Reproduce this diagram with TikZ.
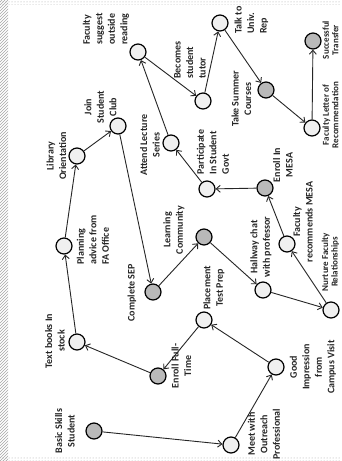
\documentclass[tikz,border=0pt]{standalone}
\usepackage{fontspec}
\setmainfont{Carlito}
\usetikzlibrary{arrows.meta,patterns}
\tikzset{
  nd/.style={circle,draw=black,line width=1.2pt,minimum size=16pt,inner sep=0pt},
  lt/.style={nd,fill=gray!12},
  dk/.style={nd,fill=gray!55},
  lbl/.style={rotate=90,font=\bfseries\fontsize{10}{12.5}\selectfont,align=center,inner sep=0pt,text=black!85},
  lbll/.style={lbl,align=left},
  lbltight/.style={lbl,font=\bfseries\fontsize{9}{9.5}\selectfont},
  arr/.style={-{Straight Barb[length=4pt,width=7pt]},line width=0.9pt,black!85},
}
\begin{document}
\begin{tikzpicture}[x=1pt,y=-1pt]
\useasboundingbox (0,0) rectangle (341,461);
\fill[white] (0,0) rectangle (341,461);
% scan border noise
\fill[pattern=north east lines,pattern color=gray!70] (0,0) rectangle (8,461);
\fill[pattern=dots,pattern color=gray!70] (0,0) rectangle (341,4);
\fill[pattern=dots,pattern color=gray!70] (0,456) rectangle (341,461);
% circles
\node[dk] (basic) at (94,431) {};
\node[lt] (meet) at (231,445) {};
\node[lt] (good) at (276,367) {};
\node[dk] (enroll) at (158,376) {};
\node[lt] (books) at (77,342) {};
\node[lt] (place) at (204,320) {};
\node[lt] (plan) at (64,246) {};
\node[dk] (sep) at (153,292) {};
\node[dk] (learn) at (204,237) {};
\node[lt] (hall) at (263,290) {};
\node[lt] (nurt) at (331,310) {};
\node[lt] (facrec) at (287,244) {};
\node[dk] (mesa) at (265,188) {};
\node[lt] (part) at (207,189) {};
\node[lt] (attend) at (171,143) {};
\node[lt] (lib) at (77,156) {};
\node[lt] (join) at (118,126) {};
\node[lt] (facsug) at (138,52) {};
\node[lt] (tutor) at (203,101) {};
\node[lt] (talk) at (220,23) {};
\node[dk] (summer) at (266,90) {};
\node[lt] (letter) at (312,128) {};
\node[dk] (transfer) at (313,41) {};
% labels
\node[lbl] (tbasic) at (65,431) {Basic Skills\\Student};
\node[lbl] (tmeet) at (264,434) {Meet with\\Outreach\\Professional};
\node[lbl] (tgood) at (313,367) {Good\\Impression\\from\\Campus Visit};
\node[lbl] (tenroll) at (181.5,366) {Enroll Full-\\Time};
\node[lbl] (tbooks) at (55,341) {Text books In\\stock};
\node[lbl] (tplace) at (214,288) {Placement\\Test Prep};
\node[lbll] (tplan) at (93,240) {Planning\\advice from\\FA Office};
\node[lbl] (tsep) at (132,293) {Complete SEP};
\node[lbl] (tlearn) at (174,230) {Learning\\Community};
\node[lbl] (thall) at (261,247) {Hallway chat\\with professor};
\node[lbltight] (tnurt) at (330.5,262) {Nurture Faculty\\Relationships};
\node[lbl] (tfacrec) at (303,222) {Faculty\\recommends MESA};
\node[lbl] (tmesa) at (283,165) {Enroll In\\MESA};
\node[lbll] (tpart) at (213,152) {Participate\\In Student\\Govt};
\node[lbl] (tattend) at (150,145) {Attend Lecture\\Series};
\node[lbl] (tlib) at (56.5,156) {Library\\Orientation};
\node[lbl] (tjoin) at (100.5,107) {Join\\Student\\Club};
\node[lbll] (tfacsug) at (106,29) {Faculty\\suggest\\outside\\reading};
\node[lbll] (ttalk) at (251.5,20) {Talk to\\Univ.\\Rep};
\node[lbll] (ttutor) at (190,60) {Becomes\\student\\tutor};
\node[lbl] (tsummer) at (241.5,99) {Take Summer\\Courses};
\node[lbltight] (tletter) at (330.5,115) {Faculty Letter of\\Recommendation};
\node[lbltight] (ttransfer) at (330.5,40) {Successful\\Transfer};
% connectors
\draw[arr] (basic) -- (meet);
\draw[arr] (meet) -- (good);
\draw[arr] (good) -- (place);
\draw[arr] (place) -- (enroll);
\draw[arr] (enroll) -- (books);
\draw[arr] (books) -- (plan);
\draw[arr] (plan) -- (lib);
\draw[arr] (lib) -- (join);
\draw[arr] (join) -- (sep);
\draw[arr] (sep) -- (learn);
\draw[arr] (learn) -- (hall);
\draw[arr] (hall) -- (nurt);
\draw[arr] (nurt) -- (facrec);
\draw[arr] (facrec) -- (mesa);
\draw[arr] (mesa) -- (part);
\draw[arr] (part) -- (attend);
\draw[arr] (attend) -- (facsug);
\draw[arr] (facsug) -- (tutor);
\draw[arr] (tutor) -- (talk);
\draw[arr] (talk) -- (summer);
\draw[arr] (summer) -- (letter);
\draw[arr] (letter) -- (transfer);
\end{tikzpicture}
\end{document}
